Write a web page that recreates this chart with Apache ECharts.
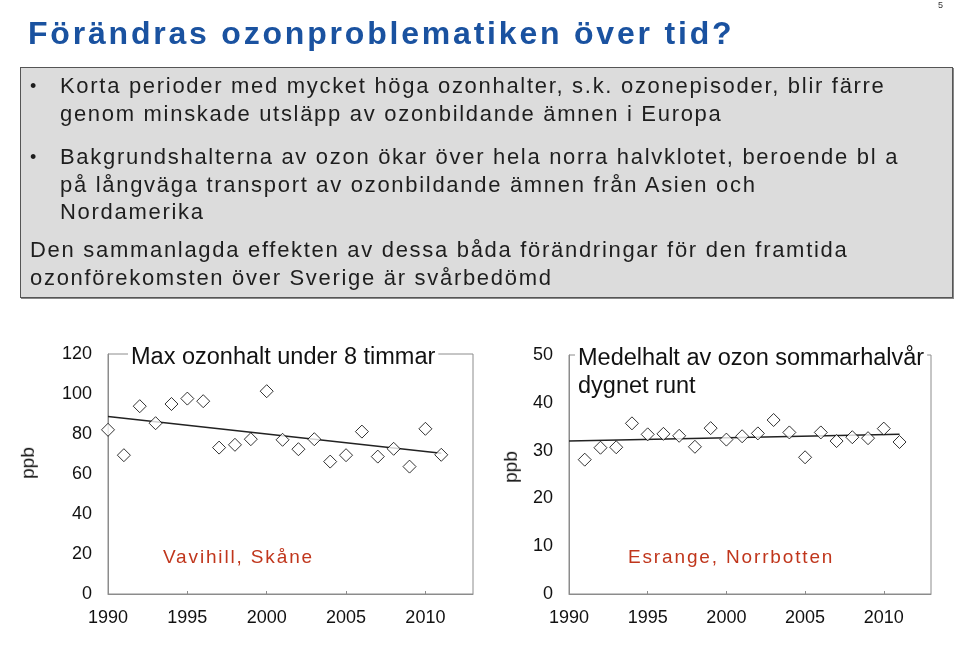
<!DOCTYPE html>
<html>
<head>
<meta charset="utf-8">
<script src="https://cdn.jsdelivr.net/npm/echarts@6/dist/echarts.min.js"></script>
<style>
  html, body { margin: 0; padding: 0; background: #fff; }
  #page { position: relative; width: 960px; height: 668px; overflow: hidden; font-family: "Liberation Sans", Arial, sans-serif; }
  #chart { position: absolute; left: 0; top: 0; width: 960px; height: 668px; }
  .txt { position: absolute; white-space: nowrap; }
  #title { left: 28px; top: 14px; font-size: 32px; line-height: 38px; font-weight: bold; color: #1a52a0; letter-spacing: 2.8px; }
  #pgno { left: 938px; top: 0px; font-size: 9px; color: #333; }
  #box { position: absolute; left: 20px; top: 67px; width: 931px; height: 229px; background: #dcdcdc; border: 1px solid #555; box-shadow: 1px 1px 0 #888; }
  .para { font-size: 22px; line-height: 27.5px; color: #1e1e1e; letter-spacing: 1.7px; }
  .bul { font-size: 18px; color: #1e1e1e; }
  .site { font-size: 19px; line-height: 24px; color: #c0361c; letter-spacing: 1.85px; }
  .ppb { font-size: 19px; line-height: 22px; color: #111; transform: rotate(-90deg); transform-origin: center center; }
</style>
</head>
<body>
<div id="page">
  <div id="chart"></div>
  <div class="txt" id="pgno">5</div>
  <div class="txt" id="title">Förändras ozonproblematiken över tid?</div>
  <div id="box"></div>
  <div class="txt bul" style="left:30px;top:76px;">•</div>
  <div class="txt para" style="left:60px;top:72px;">Korta perioder med mycket höga ozonhalter, s.k. ozonepisoder, blir färre<br>genom minskade utsläpp av ozonbildande ämnen i Europa</div>
  <div class="txt bul" style="left:30px;top:147px;">•</div>
  <div class="txt para" style="left:60px;top:143px;">Bakgrundshalterna av ozon ökar över hela norra halvklotet, beroende bl a<br>på långväga transport av ozonbildande ämnen från Asien och<br>Nordamerika</div>
  <div class="txt para" style="left:30px;top:236px;">Den sammanlagda effekten av dessa båda förändringar för den framtida<br>ozonförekomsten över Sverige är svårbedömd</div>
  <div class="txt site" style="left:163px;top:545px;">Vavihill, Skåne</div>
  <div class="txt site" style="left:628px;top:545px;">Esrange, Norrbotten</div>
  <div class="txt ppb" style="left:12px;top:452px;">ppb</div>
  <div class="txt ppb" style="left:495px;top:456px;">ppb</div>
</div>
<script>
(function(){
    var chart = echarts.init(document.getElementById('chart'));

    // Vavihill, max 8-timmars ozon (ppb)
    var vaviYears = [1990,1991,1992,1993,1994,1995,1996,1997,1998,1999,2000,2001,2002,2003,2004,2005,2006,2007,2008,2009,2010,2011];
    var vaviValues = [82.1,69.4,93.9,85.4,95.0,97.7,96.4,73.2,74.6,77.4,101.4,77.1,72.4,77.4,66.2,69.4,81.2,68.7,72.6,63.7,82.6,69.6];
    var vaviTrend = [[1990, 88.7], [2011, 70.4]];

    // Esrange, medelhalt sommarhalvår (ppb)
    var esrYears = [1991,1992,1993,1994,1995,1996,1997,1998,1999,2000,2001,2002,2003,2004,2005,2006,2007,2008,2009,2010,2011];
    var esrValues = [28.1,30.6,30.7,35.7,33.4,33.5,33.1,30.8,34.7,32.3,33.0,33.6,36.4,33.8,28.6,33.8,32.0,32.8,32.6,34.6,31.8];
    var esrTrend = [[1990, 32.0], [2011, 33.4]];

    var yearMin = 1990, yearMax = 2013, yearStep = 5;

    function pairs(xs, ys){
        var out = [];
        for (var i = 0; i < xs.length; i++) out.push([xs[i], ys[i]]);
        return out;
    }

    var axisGrey = '#8c8c8c';
    var labelStyle = { color: '#111', fontSize: 18, fontFamily: 'Liberation Sans' };

    function xAxis(idx){
        return {
            type: 'value', gridIndex: idx, min: yearMin, max: yearMax, interval: yearStep,
            axisLine: { lineStyle: { color: axisGrey } },
            axisTick: { show: true, inside: true, length: 3, lineStyle: { color: axisGrey } },
            axisLabel: Object.assign({
                margin: 15, showMaxLabel: false,
                formatter: function (v) { return String(v); }
            }, labelStyle),
            splitLine: { show: false }
        };
    }
    function yAxis(idx, max, step){
        return {
            type: 'value', gridIndex: idx, min: 0, max: max, interval: step,
            axisLine: { show: true, lineStyle: { color: axisGrey } },
            axisTick: { show: false },
            axisLabel: Object.assign({ margin: 16 }, labelStyle),
            splitLine: { show: false }
        };
    }
    function dots(idx, data){
        return {
            type: 'scatter', xAxisIndex: idx, yAxisIndex: idx, data: data,
            symbol: 'diamond', symbolSize: 13,
            itemStyle: { color: '#fff', borderColor: '#000', borderWidth: 1 },
            z: 3
        };
    }
    function trend(idx, data){
        return {
            type: 'line', xAxisIndex: idx, yAxisIndex: idx, data: data,
            showSymbol: false, symbol: 'none',
            lineStyle: { color: '#222', width: 1.5 }, z: 2
        };
    }

    var option = {
        animation: false,
        grid: [
            { left: 108, top: 354, width: 365, height: 240, show: true, borderColor: axisGrey, borderWidth: 1, backgroundColor: 'transparent' },
            { left: 569, top: 355, width: 362, height: 239, show: true, borderColor: axisGrey, borderWidth: 1, backgroundColor: 'transparent' }
        ],
        xAxis: [xAxis(0), xAxis(1)],
        yAxis: [yAxis(0, 120, 20), yAxis(1, 50, 10)],
        series: [
            dots(0, pairs(vaviYears, vaviValues)),
            trend(0, vaviTrend),
            dots(1, pairs(esrYears, esrValues)),
            trend(1, esrTrend)
        ],
        graphic: [
            {
                type: 'text', left: 128, top: 346, z: 10,
                style: {
                    text: 'Max ozonhalt under 8 timmar', fill: '#111',
                    font: '23.5px "Liberation Sans"',
                    backgroundColor: '#fff', padding: [0, 3, 0, 3]
                }
            },
            {
                type: 'text', left: 575, top: 345, z: 10,
                style: {
                    text: 'Medelhalt av ozon sommarhalvår\ndygnet runt', fill: '#111',
                    font: '23.5px "Liberation Sans"', lineHeight: 28,
                    backgroundColor: '#fff', padding: [0, 3, 0, 3]
                }
            }
        ]
    };

    chart.setOption(option);
})();
</script>
</body>
</html>
